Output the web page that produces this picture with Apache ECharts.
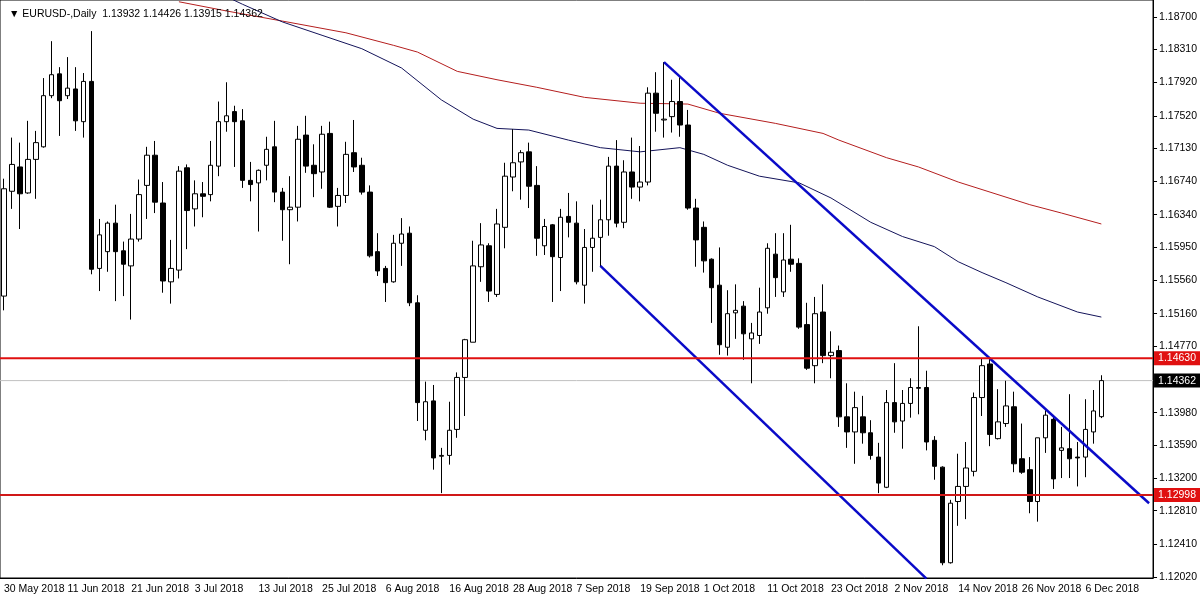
<!DOCTYPE html>
<html><head><meta charset="utf-8">
<script src="https://cdn.jsdelivr.net/npm/echarts@6/dist/echarts.min.js"></script>
<style>html,body{margin:0;padding:0;background:#fff}#c{width:1200px;height:600px}</style>
</head><body><div id="c"></div>
<script>
const openP=[1.1537,1.1662,1.1691,1.1660,1.1700,1.1715,1.1776,1.1802,1.1776,1.1784,
1.1745,1.1793,1.1570,1.1590,1.1624,1.1591,1.1573,1.1605,1.1669,1.1705,
1.1648,1.1554,1.1568,1.1690,1.1641,1.1659,1.1658,1.1692,1.1745,1.1757,
1.1746,1.1675,1.1672,1.1693,1.1715,1.1661,1.1640,1.1643,1.1729,1.1693,
1.1685,1.1731,1.1644,1.1657,1.1708,1.1693,1.1661,1.1590,1.1570,1.1554,
1.1600,1.1612,1.1529,1.1377,1.1412,1.1346,1.1347,1.1378,1.1440,1.1482,
1.1572,1.1597,1.1539,1.1619,1.1679,1.1697,1.1709,1.1669,1.1597,1.1622,
1.1583,1.1632,1.1624,1.1550,1.1595,1.1607,1.1628,1.1692,1.1625,1.1685,
1.1667,1.1673,1.1779,1.1747,1.1751,1.1769,1.1741,1.1642,1.1619,1.1581,
1.1550,1.1476,1.1517,1.1525,1.1486,1.1490,1.1523,1.1587,1.1542,1.1581,
1.1576,1.1503,1.1454,1.1518,1.1466,1.1472,1.1393,1.1375,1.1393,1.1374,
1.1345,1.1309,1.1410,1.1388,1.1409,1.1427,1.1428,1.1365,1.1333,1.1219,
1.1292,1.1310,1.1328,1.1416,1.1456,1.1367,1.1385,1.1405,1.1343,1.1330,
1.1292,1.1368,1.1390,1.1353,1.1355,1.1345,1.1345,1.1375,1.13932];
const closeP=[1.1665,1.1694,1.1659,1.1700,1.1720,1.1776,1.1801,1.1770,1.1785,1.1746,
1.1793,1.1569,1.1610,1.1624,1.1590,1.1575,1.1605,1.1658,1.1705,1.1649,
1.1555,1.1570,1.1686,1.1639,1.1659,1.1656,1.1693,1.1745,1.1752,1.1745,
1.1675,1.1670,1.1687,1.1712,1.1661,1.1640,1.1643,1.1724,1.1692,1.1683,
1.1730,1.1643,1.1657,1.1706,1.1691,1.1661,1.1585,1.1567,1.1553,1.1600,
1.1611,1.1529,1.1410,1.1411,1.1344,1.1347,1.1377,1.1440,1.1485,1.1573,
1.1598,1.1543,1.1623,1.1680,1.1696,1.1708,1.1668,1.1606,1.1620,1.1584,
1.1631,1.1625,1.1554,1.1595,1.1606,1.1628,1.1692,1.1624,1.1685,1.1667,
1.1673,1.1779,1.1755,1.1748,1.1769,1.1741,1.1642,1.1604,1.1579,1.1547,
1.1479,1.1516,1.1520,1.1492,1.1493,1.1518,1.1594,1.1559,1.1580,1.1575,
1.1500,1.1451,1.1516,1.1466,1.1470,1.1393,1.1375,1.1404,1.1374,1.1347,
1.1314,1.1410,1.1387,1.1409,1.1428,1.1428,1.1363,1.1334,1.1219,1.1290,
1.1310,1.1332,1.1416,1.1454,1.1372,1.1387,1.1406,1.1337,1.1327,1.1292,
1.1368,1.1395,1.1319,1.1356,1.1343,1.1344,1.1378,1.1400,1.14362];
const lowP=[1.1520,1.1641,1.1617,1.1659,1.1653,1.1714,1.1773,1.1728,1.1772,1.1734,
1.1726,1.1563,1.1543,1.1566,1.1531,1.1537,1.1509,1.1602,1.1629,1.1636,
1.1541,1.1528,1.1558,1.1593,1.1620,1.1631,1.1650,1.1680,1.1733,1.1691,
1.1666,1.1650,1.1614,1.1675,1.1649,1.1603,1.1575,1.1626,1.1684,1.1655,
1.1665,1.1642,1.1620,1.1648,1.1685,1.1658,1.1583,1.1561,1.1530,1.1553,
1.1573,1.1525,1.1388,1.1365,1.1330,1.1302,1.1336,1.1368,1.1394,1.1482,
1.1554,1.1530,1.1536,1.1594,1.1662,1.1652,1.1642,1.1585,1.1586,1.1530,
1.1543,1.1607,1.1551,1.1528,1.1566,1.1572,1.1609,1.1619,1.1618,1.1653,
1.1650,1.1669,1.1733,1.1726,1.1732,1.1727,1.1640,1.1572,1.1565,1.1505,
1.1467,1.1466,1.1486,1.1461,1.1433,1.1480,1.1516,1.1536,1.1536,1.1566,
1.1498,1.1449,1.1433,1.1457,1.1439,1.1381,1.1356,1.1337,1.1361,1.1342,
1.1302,1.1308,1.1374,1.1355,1.1392,1.1396,1.1353,1.1318,1.1216,1.1218,
1.1263,1.1271,1.1322,1.1394,1.1358,1.1366,1.1381,1.1327,1.1325,1.1278,
1.1268,1.1350,1.1307,1.1320,1.1320,1.1310,1.1321,1.1361,1.13915];
const highP=[1.1677,1.1726,1.1720,1.1746,1.1734,1.1797,1.1841,1.1810,1.1822,1.1810,
1.1803,1.1853,1.1629,1.1626,1.1646,1.1602,1.1635,1.1676,1.1715,1.1722,
1.1673,1.1604,1.1692,1.1694,1.1675,1.1673,1.1722,1.1769,1.1792,1.1764,
1.1760,1.1697,1.1688,1.1727,1.1746,1.1666,1.1680,1.1740,1.1752,1.1718,
1.1740,1.1745,1.1666,1.1721,1.1747,1.1702,1.1669,1.1612,1.1573,1.1610,
1.1630,1.1620,1.1538,1.1435,1.1431,1.1356,1.1411,1.1446,1.1486,1.1603,
1.1624,1.1600,1.1641,1.1696,1.1736,1.1711,1.1720,1.1692,1.1629,1.1623,
1.1641,1.1660,1.1650,1.1617,1.1646,1.1652,1.1703,1.1723,1.1699,1.1726,
1.1716,1.1786,1.1804,1.1816,1.1795,1.1798,1.1759,1.1653,1.1626,1.1582,
1.1595,1.1544,1.1551,1.1531,1.1505,1.1547,1.1600,1.1612,1.1612,1.1622,
1.1582,1.1529,1.1536,1.1551,1.1495,1.1478,1.1433,1.1423,1.1418,1.1389,
1.1362,1.1425,1.1457,1.1425,1.1439,1.1501,1.1448,1.1370,1.1334,1.1294,
1.1349,1.1363,1.1422,1.1463,1.1463,1.1426,1.1436,1.1423,1.1385,1.1345,
1.1368,1.1401,1.1394,1.1381,1.1420,1.1363,1.1414,1.1425,1.14426];
// moving averages read at sample bars [barIndex, value]
const maSlow=[[22,1.1888],[28,1.1877],[35,1.1865],[43,1.1851],[49,1.1836],[52,1.1828],[57,1.1805],[62,1.1795],[67,1.1786],[73,1.1774],[80,1.1767],[86,1.1766],[90,1.1755],[97,1.1743],[103,1.1731],[105,1.1723],[111,1.1702],[115,1.1691],[120,1.1673],[124,1.1661],[129,1.1646],[133,1.1636],[138,1.1623]];
const maFast=[[28,1.1894],[30,1.1885],[35,1.1864],[40,1.1848],[45,1.1832],[50,1.1809],[55,1.1771],[59,1.1748],[62,1.1737],[66,1.1735],[71,1.1723],[75,1.1714],[80,1.1709],[85,1.1714],[88,1.1706],[91,1.1693],[95,1.1680],[100,1.1672],[104,1.1654],[109,1.1625],[113,1.1608],[117,1.1596],[120,1.1578],[123,1.1565],[126,1.1553],[130,1.1536],[135,1.1518],[138,1.1512]];
const trendUpper=[[83,1.1816],[144,1.1290]];
const trendLower=[[75,1.1573],[116,1.1200]];
const levels=[1.14630,1.12998];
const lastPrice=1.14362;
const yTicks=[1.18700,1.18310,1.17920,1.17520,1.17130,1.16740,1.16340,1.15950,1.15560,1.15160,1.14770,1.13980,1.13590,1.13200,1.12810,1.12410,1.12020];
const startDate='2018-05-30', nBars=openP.length, nSlots=145;

const months=['Jan','Feb','Mar','Apr','May','Jun','Jul','Aug','Sep','Oct','Nov','Dec'];
const cats=[];let d=new Date(startDate+'T12:00:00Z');
while(cats.length<nSlots){const wd=d.getUTCDay();if(wd!==0&&wd!==6)cats.push(d.getUTCDate()+' '+months[d.getUTCMonth()]+' '+d.getUTCFullYear());d=new Date(d.getTime()+864e5);}
const candles=openP.map((o,i)=>[o,closeP[i],lowP[i],highP[i]]);
const font='"Liberation Sans", Arial, sans-serif';
const flat=v=>[[0,v],[1,v]];
const lvlLabel=(v,bg)=>({show:true,formatter:v.toFixed(5),backgroundColor:bg,color:'#fff',padding:[2,4,1,4],fontSize:10.5,fontFamily:font,distance:1});
const chart=echarts.init(document.getElementById('c'));
chart.setOption({
 animation:false,
 title:{text:'▼ EURUSD-,Daily  1.13932 1.14426 1.13915 1.14362',left:4,top:4,textStyle:{fontSize:10.5,fontWeight:'normal',color:'#000',fontFamily:font}},
 grid:{left:0,right:43,top:0,bottom:22,show:true,borderColor:'#000',borderWidth:1},
 xAxis:[{type:'category',data:cats,boundaryGap:true,
  axisLine:{onZero:false,lineStyle:{color:'#000'}},
  axisTick:{interval:7,alignWithLabel:true,lineStyle:{color:'#000'},length:4},
  axisLabel:{interval:7,align:'left',color:'#000',fontSize:10.5,fontFamily:font,margin:6,showMinLabel:true,hideOverlap:false,
   formatter:(v,i)=>i<nBars?v:''},
  splitLine:{show:false}},
  {type:'value',min:0,max:1,show:false,axisLine:{onZero:false}}],
 yAxis:{type:'value',position:'right',min:1.12008,max:1.18901,
  axisLine:{show:true,onZero:false,lineStyle:{color:'#000'}},
  axisTick:{show:true,customValues:yTicks,length:4,lineStyle:{color:'#000'}},
  axisLabel:{customValues:yTicks,formatter:v=>v.toFixed(5),color:'#000',fontSize:10.5,fontFamily:font,margin:6},
  splitLine:{show:false}},
 series:[
  {type:'line',xAxisIndex:1,data:flat(lastPrice),symbol:'none',lineStyle:{color:'#c0c0c0',width:1},z:0,endLabel:lvlLabel(lastPrice,'#000')},
  {type:'line',xAxisIndex:1,data:flat(levels[0]),symbol:'none',lineStyle:{color:'#e01010',width:2},z:4,endLabel:lvlLabel(levels[0],'#e01010')},
  {type:'line',xAxisIndex:1,data:flat(levels[1]),symbol:'none',lineStyle:{color:'#d01818',width:2},z:4,endLabel:lvlLabel(levels[1],'#e01010')},
  {type:'candlestick',data:candles,barWidth:5,z:2,
   itemStyle:{color:'#fff',color0:'#000',borderColor:'#000',borderColor0:'#000',borderWidth:1}},
  {type:'line',data:maSlow,symbol:'none',lineStyle:{color:'#b41e1e',width:1},z:1},
  {type:'line',data:maFast,symbol:'none',lineStyle:{color:'#14145a',width:1},z:1},
  {type:'line',data:trendUpper,symbol:'none',lineStyle:{color:'#0a0ac8',width:2.5},z:3},
  {type:'line',data:trendLower,symbol:'none',lineStyle:{color:'#0a0ac8',width:2.5},z:3}
 ]
});
</script></body></html>
